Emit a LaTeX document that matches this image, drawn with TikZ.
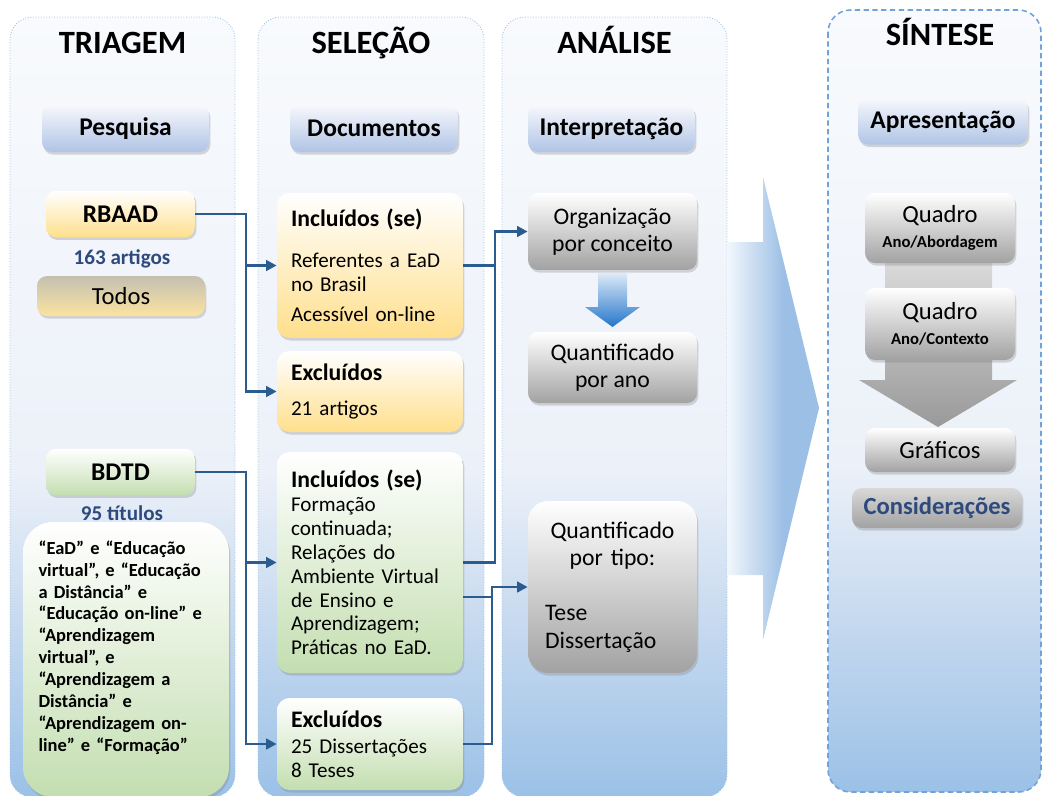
\documentclass[tikz,border=0pt]{standalone}
\usepackage{fontspec}
\setmainfont{Carlito}
\usepackage{tikz}
\usetikzlibrary{positioning,arrows.meta,shadows}

\definecolor{laneline}{HTML}{9DC3E6}
\definecolor{lanetop}{HTML}{F8FAFD}
\definecolor{lanemid}{HTML}{ECF1F9}
\definecolor{lanelow}{HTML}{C6D9EF}
\definecolor{lanebot}{HTML}{9BC1E7}
\definecolor{sintline}{HTML}{6FA3DA}
\definecolor{headtop}{HTML}{F6F8FC}
\definecolor{headbot}{HTML}{B0C4E6}
\definecolor{ylwbot}{HTML}{FFDF8C}
\definecolor{grnbot}{HTML}{C3DEB0}
\definecolor{grybot}{HTML}{A2A2A2}
\definecolor{todtop}{HTML}{C4BFB1}
\definecolor{todbot}{HTML}{FBE3A0}
\definecolor{linkblue}{HTML}{2B5C8F}
\definecolor{numblue}{HTML}{2E4A7D}
\definecolor{arwleft}{HTML}{F3F7FC}
\definecolor{arwblue}{HTML}{9CBFE5}
\definecolor{arwtop}{HTML}{DDEAF8}
\definecolor{arwbot}{HTML}{2476C9}

\pgfdeclareverticalshading{laneshade}{100bp}{color(0bp)=(lanebot); color(25bp)=(lanebot); color(36bp)=(lanelow); color(46bp)=(lanemid); color(75bp)=(lanetop); color(100bp)=(lanetop)}
\pgfdeclarehorizontalshading{bigarrow}{100bp}{color(0bp)=(arwleft); color(25bp)=(arwleft); color(56bp)=(arwblue); color(100bp)=(arwblue)}

\begin{document}
\begin{tikzpicture}[x=0.02cm,y=-0.02cm,
    lane/.style={shade,shading=laneshade,draw=laneline,densely dotted,line width=0.5pt,rounded corners=0.45cm},
    lanetitle/.style={anchor=base,font=\bfseries\fontsize{18.5}{20}\selectfont},
    panel/.style={inner sep=0pt,rounded corners=0.2cm,drop shadow={opacity=0.3,shadow xshift=0.8pt,shadow yshift=-1.5pt}},
    headbox/.style={panel,top color=headtop,bottom color=headbot,minimum height=0.94cm,font=\bfseries\fontsize{14.5}{16}\selectfont},
    srcbox/.style={panel,minimum width=2.98cm,minimum height=0.93cm,font=\bfseries\fontsize{14.5}{16}\selectfont},
    countlbl/.style={text=numblue,font=\bfseries\fontsize{12}{14}\selectfont},
    critbox/.style={panel,rounded corners=0.25cm,minimum width=3.72cm,text width=3.16cm,inner xsep=0.28cm,align=left,font=\fontsize{12}{13.6}\selectfont},
    greybox/.style={panel,top color=white,bottom color=grybot,align=center,font=\fontsize{13.5}{15.5}\selectfont},
    link/.style={draw=linkblue,line width=1.6pt,-{Triangle[length=6pt,width=6pt]}},
    wire/.style={draw=linkblue,line width=1.6pt}]
\useasboundingbox (0,0) rectangle (1044,795);

% lanes
\foreach \xa/\xb/\ttl [count=\n] in {10/235/TRIAGEM,258/484/SELEÇÃO,502/727/ANÁLISE}{
  \path[lane] (\xa,17) rectangle (\xb,797);
  \node[lanetitle] (T\n) at ({(\xa+\xb)/2},53) {\ttl};
}
\path[lane,draw=sintline,dash pattern=on 3pt off 2pt,line width=0.9pt] (828,10) rectangle (1041,792);
\node[lanetitle] (T4) at (940,45) {SÍNTESE};

% big arrow towards the synthesis
\path[shade,shading=bigarrow] (727,242) -- (763,242) -- (763,177) -- (819,408) -- (763,640) -- (763,575) -- (727,575) -- cycle;

% headers
\node[headbox,minimum width=3.34cm] (pesq) at (125.5,128.5) {Pesquisa};
\node[headbox,minimum width=3.36cm] (docs) at (374,128.5) {Documentos};
\node[headbox,minimum width=3.34cm] (interp) at (611.5,128.5) {Interpretação};
\node[headbox,minimum width=3.4cm,minimum height=0.92cm] (apres) at (943,121.5) {Apresentação};

% triagem
\node[srcbox,top color=white,bottom color=ylwbot] (rbaad) at (120.5,214) {RBAAD};
\node[countlbl] (nrb) at (122,259) {163 artigos};
\node[panel,top color=todtop,bottom color=todbot,minimum width=3.36cm,minimum height=0.8cm,font=\fontsize{14}{16}\selectfont] (todos) at (121,296) {Todos};
\node[srcbox,top color=white,bottom color=grnbot] (bdtd) at (120.5,472) {BDTD};
\node[panel,top color=white,bottom color=grnbot,rounded corners=0.6cm,minimum width=4.12cm,minimum height=5.5cm,text width=3.5cm,inner xsep=0.31cm,align=left,font=\bfseries\fontsize{10.5}{12.45}\selectfont] (termos) at (126,659.5)
  {“EaD” e “Educação\\virtual”, e “Educação\\a Distância” e\\“Educação on-line” e\\“Aprendizagem\\virtual”, e\\“Aprendizagem a\\Distância” e\\“Aprendizagem on-\\line” e “Formação”\\[3pt]\mbox{}};
\node[countlbl] (nbd) at (122,513) {95 títulos};

% selecao
\node[critbox,top color=white,bottom color=ylwbot,minimum height=2.9cm] (inca) at (370,265.5)
  {{\bfseries\fontsize{13.5}{13.6}\selectfont Incluídos (se)}\\[9.6pt]Referentes a EaD\\no Brasil\\[3.4pt]Acessível on-line};
\node[critbox,top color=white,bottom color=ylwbot,minimum height=1.62cm] (excla) at (370,391.5)
  {{\bfseries\fontsize{13.5}{13.6}\selectfont Excluídos}\\[6.2pt]21 artigos};
\node[critbox,top color=white,bottom color=grnbot,minimum height=4.42cm] (incb) at (370,562.5)
  {{\bfseries\fontsize{13.5}{13.6}\selectfont Incluídos (se)}\\[0pt]Formação\\continuada;\\Relações do\\Ambiente Virtual\\de Ensino e\\Aprendizagem;\\Práticas no EaD.};
\node[critbox,top color=white,bottom color=grnbot,minimum height=1.84cm] (exclb) at (370,744)
  {{\bfseries\fontsize{13.5}{13.6}\selectfont Excluídos}\\[1pt]25 Dissertações\\8 Teses};

% analise
\path[shade,top color=arwtop,bottom color=arwbot] (598,273) -- (627,273) -- (627,307) -- (640,307) -- (612.5,327) -- (585,307) -- (598,307) -- cycle;
\node[greybox,minimum width=3.38cm,minimum height=1.54cm] (org) at (612.5,231.5) {Organização\\por conceito};
\node[greybox,minimum width=3.38cm,minimum height=1.42cm] (qano) at (612.5,367.5) {Quantificado\\por ano};
\node[greybox,minimum width=3.38cm,minimum height=3.44cm,rounded corners=0.4cm,text width=2.7cm,inner xsep=0.34cm] (tipo) at (612.5,587)
  {Quantificado\\por tipo:\par\vspace{16pt}\noindent\makebox[2.7cm][l]{Tese}\par\noindent\makebox[2.7cm][l]{Dissertação}};

% sintese
\path[shade,top color=gray!25,bottom color=gray!80] (885,250) -- (992,250) -- (992,380) -- (1017,380) -- (938,427) -- (859,380) -- (885,380) -- cycle;
\node[greybox,minimum width=3cm,minimum height=1.4cm,font=\fontsize{14}{14.2}\selectfont] (qa) at (940,228) {Quadro\\{\bfseries\fontsize{9.5}{11}\selectfont Ano/Abordagem}};
\node[greybox,minimum width=3cm,minimum height=1.44cm,font=\fontsize{14}{14.2}\selectfont] (qc) at (940,324) {Quadro\\{\bfseries\fontsize{9.5}{11}\selectfont Ano/Contexto}};
\node[greybox,minimum width=3cm,minimum height=0.88cm,font=\fontsize{14}{16}\selectfont] (graf) at (940,450) {Gráficos};
\node[greybox,top color=gray!30,minimum width=3.4cm,minimum height=0.8cm,text=numblue,font=\bfseries\fontsize{14}{16}\selectfont] (consid) at (937,508) {Considerações};

% connectors
\coordinate (jl) at (246,0);
\coordinate (jr) at (495,0);
\coordinate (jt) at (492,597);
\draw[link] (rbaad.east) -- (rbaad.east -| jl) |- (inca.west);
\draw[link] (rbaad.east -| jl) |- (excla.west);
\draw[link] (bdtd.east) -- (bdtd.east -| jl) |- (incb.west);
\draw[link] (bdtd.east -| jl) |- (exclb.west);
\draw[link] (inca.east) -- (inca.east -| jr) |- (org.west);
\draw[wire] (incb.east) -- (incb.east -| jr) -- (inca.east -| jr);
\draw[wire] (incb.east |- jt) -- (jt);
\draw[link] (exclb.east) -| (jt) |- (tipo.west);
\end{tikzpicture}
\end{document}
